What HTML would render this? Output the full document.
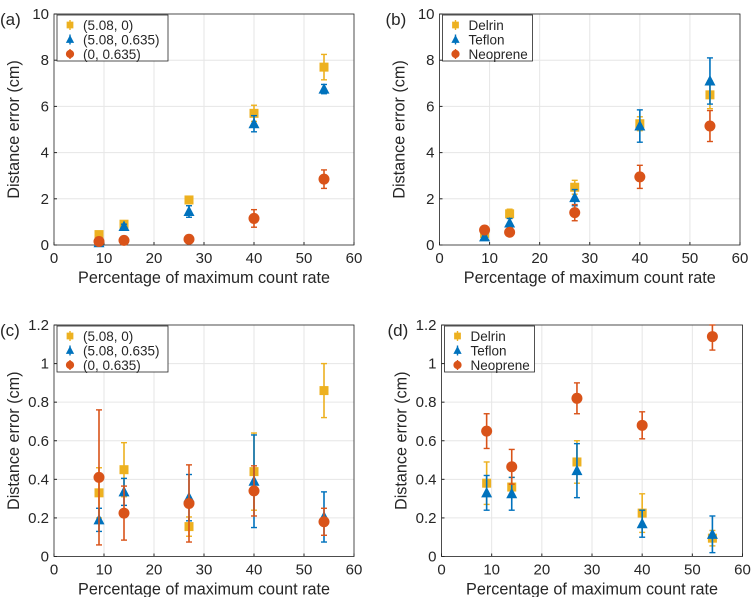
<!DOCTYPE html>
<html><head><meta charset="utf-8"><style>
html,body{margin:0;padding:0;background:#fff;}
svg text{font-family:"Liberation Sans","DejaVu Sans",sans-serif;fill:#262626;}
</style></head><body>
<svg id="fig" width="752" height="597" xmlns="http://www.w3.org/2000/svg"></svg>
<script>
const xValues=[9,14,27,40,54];
const xTicks=[0,10,20,30,40,50,60];
const yTicksTop=[0,2,4,6,8,10];
const yTicksBottom=[0,0.2,0.4,0.6,0.8,1,1.2];
const legendA=["(5.08, 0)","(5.08, 0.635)","(0, 0.635)"];
const legendB=["Delrin","Teflon","Neoprene"];
const aYellow=[0.45,0.9,1.95,5.7,7.7];const aYellowErr=[0.15,0.1,0.15,0.35,0.55];
const aBlue=[0.1,0.8,1.45,5.25,6.75];const aBlueErr=[0.1,0.1,0.25,0.35,0.2];
const aRed=[0.15,0.2,0.25,1.15,2.85];const aRedErr=[0.1,0.05,0.15,0.38,0.4];
const bYellow=[0.5,1.35,2.5,5.25,6.5];const bYellowErr=[0.1,0.2,0.3,0.3,0.6];
const bBlue=[0.35,0.95,2.05,5.15,7.1];const bBlueErr=[0.1,0.2,0.35,0.7,1.0];
const bRed=[0.65,0.55,1.4,2.95,5.15];const bRedErr=[0.1,0.1,0.35,0.5,0.67];
const cYellow=[0.33,0.45,0.155,0.44,0.86];const cYellowErr=[0.13,0.14,0.05,0.2,0.14];
const cBlue=[0.19,0.335,0.305,0.39,0.205];const cBlueErr=[0.06,0.07,0.12,0.24,0.13];
const cRed=[0.41,0.225,0.275,0.34,0.18];const cRedErr=[0.35,0.14,0.2,0.13,0.07];
const dYellow=[0.38,0.36,0.49,0.225,0.095];const dYellowErr=[0.11,0.05,0.11,0.1,0.04];
const dBlue=[0.33,0.325,0.445,0.17,0.115];const dBlueErr=[0.09,0.085,0.14,0.07,0.095];
const dRed=[0.65,0.465,0.82,0.68,1.14];const dRedErr=[0.09,0.09,0.08,0.07,0.07];

const NS="http://www.w3.org/2000/svg";
const svg=document.getElementById('fig');
const COLORS=["#EDB120","#0072BD","#D95319"];
const SHAPES=["square","triangle","circle"];
function mk(tag,attrs,parent){const e=document.createElementNS(NS,tag);for(const k in attrs)e.setAttribute(k,attrs[k]);(parent||svg).appendChild(e);return e;}
function marker(g,shape,cx,cy,color,s){
  s=s||1;let m;
  if(shape==="square")m=mk('rect',{x:cx-4.5*s,y:cy-4.5*s,width:9*s,height:9*s,fill:color},g);
  else if(shape==="triangle")m=mk('polygon',{points:`${cx},${cy-6*s} ${cx+5.5*s},${cy+4.5*s} ${cx-5.5*s},${cy+4.5*s}`,fill:color},g);
  else m=mk('circle',{cx:cx,cy:cy,r:5.5*s,fill:color},g);
  return m;
}
function panel(id,L,R,T,B,ymax,yTicks,series,errs,legend,letter){
  const g=mk('g',{});
  
  
  const xs=v=>L+(R-L)*v/60, ys=v=>B-(B-T)*v/ymax;
  mk('rect',{x:L,y:T,width:R-L,height:B-T,fill:'#fff'},g);
  xTicks.forEach(t=>{
    mk('line',{x1:xs(t),x2:xs(t),y1:T,y2:B,stroke:'#e6e6e6','stroke-width':1},g);
    const tx=mk('text',{x:xs(t),y:B+18,'font-size':15,'text-anchor':'middle'},g);tx.textContent=t;
    
    mk('line',{x1:xs(t),x2:xs(t),y1:B,y2:B-3,stroke:'#262626'},g);
  });
  yTicks.forEach(t=>{
    mk('line',{x1:L,x2:R,y1:ys(t),y2:ys(t),stroke:'#e6e6e6','stroke-width':1},g);
    const tx=mk('text',{x:L-5,y:ys(t)+5,'font-size':15,'text-anchor':'end'},g);tx.textContent=t;
    
    mk('line',{x1:L,x2:L+3,y1:ys(t),y2:ys(t),stroke:'#262626'},g);
  });
  const fr=mk('rect',{x:L,y:T,width:R-L,height:B-T,fill:'none',stroke:'#262626','stroke-width':0.8},g);
  
  const xl=mk('text',{x:(L+R)/2,y:B+38,'font-size':16.2,'text-anchor':'middle'},g);xl.textContent='Percentage of maximum count rate';
  
  const yl=mk('text',{x:0,y:0,'font-size':16.2,'text-anchor':'middle',transform:`translate(${L-35},${(T+B)/2}) rotate(-90)`},g);yl.textContent='Distance error (cm)';
  
  const pl=mk('text',{x:L-54,y:T+11,'font-size':17},g);pl.textContent=letter;
  
  series.forEach((s,si)=>{
    const sg=mk('g',{},g);
    
    
    s.forEach((v,i)=>{
      const cx=xs(xValues[i]),lo=ys(Math.max(0,v-errs[si][i])),hi=ys(Math.min(ymax,v+errs[si][i])),c=COLORS[si];
      mk('line',{x1:cx,x2:cx,y1:lo,y2:hi,stroke:c,'stroke-width':1.6},sg);
      mk('line',{x1:cx-3,x2:cx+3,y1:lo,y2:lo,stroke:c,'stroke-width':1.4},sg);
      mk('line',{x1:cx-3,x2:cx+3,y1:hi,y2:hi,stroke:c,'stroke-width':1.4},sg);
      const m=marker(sg,SHAPES[si],cx,ys(v),c);
      
      
    });
  });
  const lw=legend[0].length>8?111:90;
  const lg=mk('g',{},g);
  
  mk('rect',{x:L+3,y:T+1,width:lw,height:46,fill:'#fff',stroke:'#262626','stroke-width':0.8},lg);
  legend.forEach((t,i)=>{
    const yy=T+11+i*14.5,cx=L+16,c=COLORS[i];
    mk('line',{x1:cx,x2:cx,y1:yy-5,y2:yy+5,stroke:c,'stroke-width':1.4},lg);
    marker(lg,SHAPES[i],cx,yy,c,0.75);
    const tx=mk('text',{x:L+29,y:yy+5,'font-size':13.5},lg);tx.textContent=t;
    
  });
}
panel('a',54,354,14,245,10,yTicksTop,[aYellow,aBlue,aRed],[aYellowErr,aBlueErr,aRedErr],legendA,'(a)');
panel('b',439.5,740,14,245,10,yTicksTop,[bYellow,bBlue,bRed],[bYellowErr,bBlueErr,bRedErr],legendB,'(b)');
panel('c',54,354,325,556.5,1.2,yTicksBottom,[cYellow,cBlue,cRed],[cYellowErr,cBlueErr,cRedErr],legendA,'(c)');
panel('d',441.5,742.5,325,556.5,1.2,yTicksBottom,[dYellow,dBlue,dRed],[dYellowErr,dBlueErr,dRedErr],legendB,'(d)');
</script>
</body></html>
